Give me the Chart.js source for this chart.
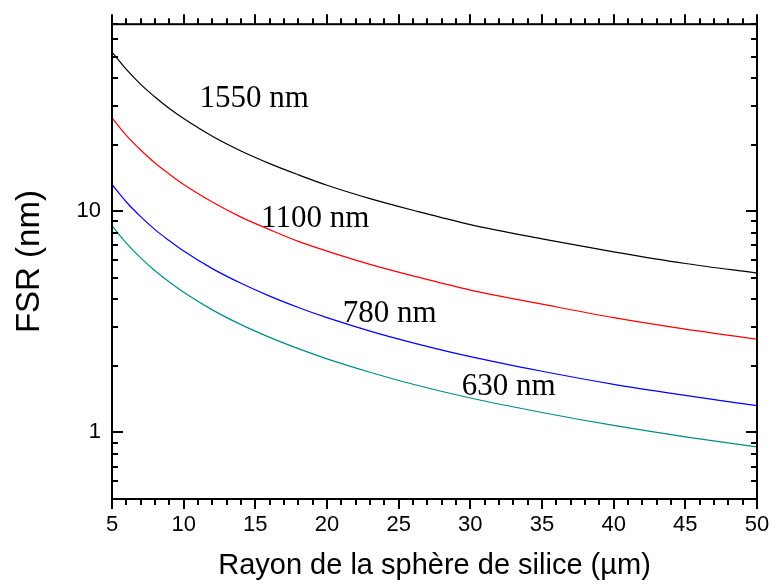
<!DOCTYPE html>
<html>
<head>
  <meta charset="utf-8" />
  <style>
    html, body { margin: 0; padding: 0; background: #fff; }
    #wrap { width: 771px; height: 587px; }
  </style>
</head>
<body>
<div id="wrap"><canvas id="fsrChart"></canvas></div>
<script src="https://cdn.jsdelivr.net/npm/chart.js"></script>
<script>
  // rayon de la sphère (µm) et FSR (nm)
  var rayon = [5, 6, 7, 8, 9, 10, 12, 14, 16, 18, 20, 23, 26, 30, 35, 40, 45, 50];
  var fsr1550 = [52.4, 43.7, 37.4, 32.8, 29.1, 26.2, 21.8, 18.7, 16.4, 14.6, 13.1, 11.4, 10.1, 8.7, 7.5, 6.55, 5.8, 5.25];
  var fsr1100 = [26.4, 22.0, 18.9, 16.5, 14.7, 13.2, 11.0, 9.4, 8.25, 7.3, 6.6, 5.75, 5.1, 4.4, 3.8, 3.3, 2.93, 2.64];
  var fsr780 = [13.2, 11.0, 9.45, 8.25, 7.35, 6.6, 5.5, 4.72, 4.13, 3.67, 3.3, 2.87, 2.54, 2.2, 1.89, 1.65, 1.47, 1.32];
  var fsr630 = [8.6, 7.17, 6.15, 5.38, 4.78, 4.3, 3.58, 3.07, 2.69, 2.39, 2.15, 1.87, 1.65, 1.43, 1.23, 1.075, 0.955, 0.86];

  var xTicks = [5, 10, 15, 20, 25, 30, 35, 40, 45, 50];
  var yTicks = [0.5, 0.6, 0.7, 0.8, 0.9, 1, 2, 3, 4, 5, 6, 7, 8, 9, 10, 20, 30, 40, 50, 60, 70];
  var yTickLabels = { 1: '1', 10: '10' };

  var courbes = ['1550 nm', '1100 nm', '780 nm', '630 nm'];
  // position du texte de chaque courbe (coordonnées des données)
  var courbesX = [11.1, 15.4, 21.1, 29.4];
  var courbesY = [32.3, 9.2, 3.44, 1.6];

  function pts(vals) {
    return rayon.map(function (r, i) { return { x: r, y: vals[i] }; });
  }

  // ticks, cadre et textes des courbes
  var decor = {
    id: 'decor',
    afterDraw: function (chart) {
      var c = chart.ctx, a = chart.chartArea;
      var xs = chart.scales.x, ys = chart.scales.y;
      c.save();
      c.strokeStyle = '#000';
      c.lineWidth = 2;
      c.beginPath();
      // x : ticks vers l'extérieur, en bas et en haut
      for (var v = xs.min; v <= xs.max; v++) {
        var px = Math.round(xs.getPixelForValue(v));
        var len = (v % 5 === 0) ? 10 : 6;
        c.moveTo(px, a.bottom); c.lineTo(px, a.bottom + len);
        c.moveTo(px, a.top); c.lineTo(px, a.top - len);
      }
      // y : ticks vers l'intérieur, à gauche et à droite
      yTicks.forEach(function (t) {
        var py = Math.round(ys.getPixelForValue(t));
        var lg = Math.log10(t);
        var len = Math.abs(lg - Math.round(lg)) < 1e-9 ? 11 : 6;
        c.moveTo(a.left, py); c.lineTo(a.left + len, py);
        c.moveTo(a.right, py); c.lineTo(a.right - len, py);
      });
      c.stroke();
      c.strokeRect(a.left, a.top, a.right - a.left, a.bottom - a.top);

      c.fillStyle = '#000';
      c.font = '31px "Liberation Serif", "Times New Roman", serif';
      c.textAlign = 'left';
      c.textBaseline = 'middle';
      courbes.forEach(function (txt, i) {
        c.fillText(txt, xs.getPixelForValue(courbesX[i]), ys.getPixelForValue(courbesY[i]));
      });
      c.restore();
    }
  };

  var font = '"Liberation Sans", Arial, sans-serif';

  new Chart(document.getElementById('fsrChart'), {
    type: 'line',
    data: {
      datasets: [
        { label: '1550 nm', data: pts(fsr1550), borderColor: '#000000' },
        { label: '1100 nm', data: pts(fsr1100), borderColor: '#ff0000' },
        { label: '780 nm', data: pts(fsr780), borderColor: '#0000ff' },
        { label: '630 nm', data: pts(fsr630), borderColor: '#008c8c' }
      ]
    },
    options: {
      responsive: true,
      maintainAspectRatio: false,
      animation: false,
      datasets: {
        line: { borderWidth: 1.2, pointRadius: 0, fill: false, cubicInterpolationMode: 'monotone' }
      },
      layout: { padding: { top: 23, right: 0, left: 0, bottom: 0 } },
      plugins: { legend: { display: false }, tooltip: { enabled: false } },
      scales: {
        x: {
          type: 'linear',
          min: 5, max: 50,
          grid: { display: false, drawTicks: false },
          border: { display: false },
          afterBuildTicks: function (s) { s.ticks = xTicks.map(function (v) { return { value: v }; }); },
          afterFit: function (s) { s.height = 88; s.paddingRight = 14; s.paddingLeft = 0; },
          ticks: { color: '#000', padding: 13, maxRotation: 0, autoSkip: false, font: { family: font, size: 22 } },
          title: { display: true, text: 'Rayon de la sphère de silice (µm)', color: '#000', padding: { top: 2 }, font: { family: font, size: 29 } }
        },
        y: {
          type: 'logarithmic',
          min: 0.5, max: 70,
          grid: { display: false, drawTicks: false },
          border: { display: false },
          afterBuildTicks: function (s) { s.ticks = yTicks.map(function (v) { return { value: v }; }); },
          afterFit: function (s) { s.width = 112; },
          ticks: {
            color: '#000', padding: 11, autoSkip: false, font: { family: font, size: 22 },
            callback: function (v) { return yTickLabels[v] || ''; }
          },
          title: { display: true, text: 'FSR (nm)', color: '#000', padding: { top: 10, bottom: 6 }, font: { family: font, size: 33 } }
        }
      }
    },
    plugins: [decor]
  });
</script>
</body>
</html>
